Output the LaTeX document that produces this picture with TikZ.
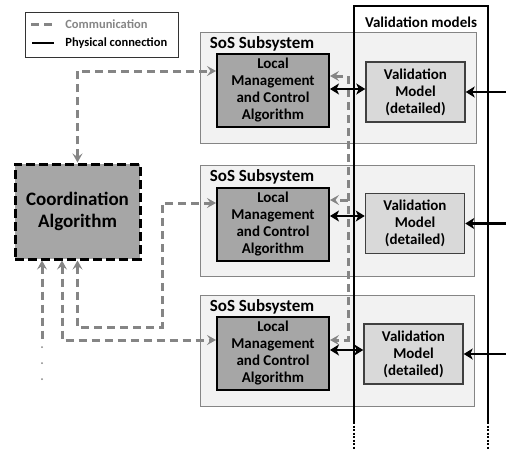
\documentclass[tikz,border=0pt]{standalone}
\usepackage{fontspec}
\setmainfont{Carlito}
\usetikzlibrary{arrows.meta,positioning,calc}
\definecolor{commgray}{HTML}{858585}
\definecolor{subfill}{HTML}{F2F2F2}
\definecolor{algfill}{HTML}{A6A6A6}
\definecolor{vmfill}{HTML}{D9D9D9}
\tikzset{every picture/.style={line width=0.75pt}}

\begin{document}
\begin{tikzpicture}[x=1pt,y=-1pt,
    subsys/.style={draw=commgray, fill=subfill, line width=1pt, minimum width=274pt, minimum height=111pt, inner sep=0pt},
    subtitle/.style={font=\fontsize{17}{19}\selectfont\bfseries, inner sep=0pt, anchor=north west},
    lmca/.style={draw=black, fill=algfill, line width=2pt, minimum width=112pt, minimum height=73pt, inner sep=0pt, align=center, font=\fontsize{15}{17}\selectfont\bfseries},
    valmodel/.style={draw=black!75, fill=vmfill, line width=1.5pt, minimum width=99pt, minimum height=60pt, inner sep=0pt, align=center, font=\fontsize{15}{17}\selectfont\bfseries},
    coordbox/.style={draw=black, fill=algfill, line width=3pt, dash pattern=on 9pt off 4pt, minimum width=125pt, minimum height=95pt, inner sep=0pt, align=center, font=\fontsize{19}{22}\selectfont\bfseries},
    comm/.style={draw=commgray, line width=3pt, dash pattern=on 8pt off 5pt, arrows={-}, >={Stealth[length=9pt,width=10pt,inset=3.5pt]}},
    phys/.style={draw=black, line width=2.5pt, >={Stealth[length=9pt,width=11pt,inset=2.5pt]}},
    vline/.style={draw=black, line width=2pt}]
    \useasboundingbox (0,0) rectangle (506,450);

    % legend
    \draw[draw=black!80, line width=1pt] (25,12) rectangle (178,57);
    \draw[comm] (31,24) -- (55,24);
    \node[anchor=west, commgray, font=\fontsize{12.5}{14}\selectfont\bfseries, inner sep=0pt] (legcomm) at (65,24) {Communication};
    \draw[black, line width=2pt] (32,43) -- (54,43);
    \node[anchor=west, font=\fontsize{12.5}{14}\selectfont\bfseries, inner sep=0pt] (legphys) at (65,43) {Physical connection};

    % subsystems
    \node[subsys, minimum width=276pt] (sub1) at (338,87.5) {};
    \node[subsys] (sub2) at (337,220.5) {};
    \node[subsys] (sub3) at (337,350.5) {};
    \foreach \s in {sub1,sub2,sub3}
        \node[subtitle] at ([xshift=10pt,yshift=-5pt]\s.north west) {SoS Subsystem};

    % local algorithms
    \node[lmca] (lmca1) at (273,90) {Local\\Management\\and Control\\Algorithm};
    \node[lmca] (lmca2) at (273,224) {Local\\Management\\and Control\\Algorithm};
    \node[lmca] (lmca3) at (273,353.5) {Local\\Management\\and Control\\Algorithm};

    % validation models
    \node[valmodel] (vm1) at (415.5,92) {Validation\\Model\\(detailed)};
    \node[valmodel] (vm2) at (415,223.5) {Validation\\Model\\(detailed)};
    \node[valmodel] (vm3) at (413.5,354) {Validation\\Model\\(detailed)};

    % validation models frame
    \draw[vline] (354,422) -- (354,6) -- (488,6) -- (488,422);
    \draw[vline, line width=2.5pt, dash pattern=on 2pt off 1.5pt] (354,422) -- (354,450);
    \draw[vline, line width=2.5pt, dash pattern=on 2pt off 1.5pt] (488,422) -- (488,450);
    \node[font=\fontsize{15}{17}\selectfont\bfseries] (vmtitle) at (421,22) {Validation models};

    % coordination algorithm
    \node[coordbox] (coord) at (77.5,211.5) {Coordination\\Algorithm};

    % communication
    \coordinate (bend2) at (162,327);
    \coordinate (bus) at (348,340);
    \draw[comm,<->] (coord.north) |- ([yshift=19pt]lmca1.west);
    \draw[comm,<->] (coord.south) |- (bend2) |- ([yshift=21pt]lmca2.west);
    \draw[comm,<->] ([xshift=-15.5pt]coord.south) |- ([yshift=13.5pt]lmca3.west);
    \draw[comm,<-] ([xshift=-35.5pt]coord.south) -- ++(0,78);
    \foreach \y in {347,363,379}
        \fill[commgray] (42,\y) circle (1pt);
    \draw[comm,<->] ([yshift=14pt]lmca1.east) -| (bus) -- ([yshift=13.5pt]lmca3.east);
    \draw[comm,->] ([yshift=24pt]lmca2.east -| bus) -- ([yshift=24pt]lmca2.east);

    % physical connections
    \draw[phys,<->] ([yshift=1pt]lmca1.east) -- ([yshift=1pt]lmca1.east -| vm1.west);
    \draw[phys,<->] ([yshift=8pt]lmca2.east) -- ([yshift=8pt]lmca2.east -| vm2.west);
    \draw[phys,<->] ([yshift=3.5pt]lmca3.east) -- ([yshift=3.5pt]lmca3.east -| vm3.west);
    \foreach \v in {vm1,vm2,vm3}
        \draw[phys,<-] (\v.east) -- ++(42,0);
\end{tikzpicture}
\end{document}
